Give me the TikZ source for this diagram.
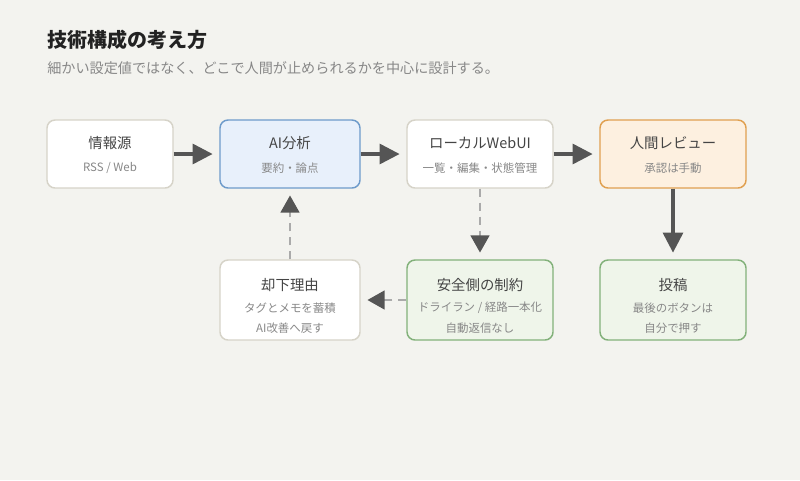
\documentclass[tikz,border=0pt]{standalone}
\usepackage{fontspec}
\setmainfont{Noto Sans CJK JP}
\usetikzlibrary{arrows.meta}
\definecolor{bg}{HTML}{F3F3EF}
\definecolor{nbord}{HTML}{D6D3C8}
\definecolor{bfill}{HTML}{E8F0FB}
\definecolor{bbord}{HTML}{6E9BCB}
\definecolor{ofill}{HTML}{FDF0E0}
\definecolor{obord}{HTML}{E0A050}
\definecolor{gfill}{HTML}{EFF5EA}
\definecolor{gbord}{HTML}{82B17A}
\definecolor{dark}{HTML}{555555}
\definecolor{dgray}{HTML}{AAAAAA}
\definecolor{ttl}{HTML}{222222}
\definecolor{txt}{HTML}{444444}
\definecolor{sub}{HTML}{888888}
\begin{document}
\begin{tikzpicture}[x=0.75pt,y=-0.75pt,
  box/.style={draw=nbord,fill=white,rounded corners=6pt,line width=1.1pt,minimum width=#1*0.75pt,align=center,inner sep=0pt},
  smallbox/.style={box=#1,minimum height=51pt},
  bigbox/.style={box=#1,minimum height=60pt},
  flow/.style={draw=dark,line width=2.4pt,-{Triangle[length=15pt,width=15pt,color=dark]},shorten >=5pt},
  back/.style={draw=dgray,line width=2.2pt,dash pattern=on 6pt off 4.5pt,-{Triangle[length=13pt,width=14pt,color=dark]},shorten >=5pt},
  hd/.style={font=\fontsize{10.8}{12}\selectfont,text=txt},
  sb/.style={font=\fontsize{8.6}{10}\selectfont,text=sub}]
\fill[bg] (0,0) rectangle (800,480);
\useasboundingbox (0,0) rectangle (800,480);
\node[anchor=west,inner sep=0pt,font=\fontsize{15}{17}\bfseries\selectfont,text=ttl] (title) at (47,40) {技術構成の考え方};
\node[anchor=west,inner sep=0pt,font=\fontsize{10.6}{12}\selectfont,text=sub] (subtitle) at (47,68) {細かい設定値ではなく、どこで人間が止められるかを中心に設計する。};

\node[smallbox=126] (src) at (110,154) {};
\node[smallbox=140,fill=bfill,draw=bbord] (ai) at (290,154) {};
\node[smallbox=146] (ui) at (480,154) {};
\node[smallbox=146,fill=ofill,draw=obord] (rev) at (673,154) {};
\node[bigbox=140] (rej) at (290,300) {};
\node[bigbox=146,fill=gfill,draw=gbord] (safe) at (480,300) {};
\node[bigbox=146,fill=gfill,draw=gbord] (post) at (673,300) {};

\node[hd] (t1) at (110,143) {情報源};
\node[sb] (s1) at (110,168) {RSS / Web};
\node[hd] (t2) at (290,143) {AI分析};
\node[sb] (s2) at (290,168) {要約・論点};
\node[hd] (t3) at (480,143) {ローカルWebUI};
\node[sb] (s3) at (480,168) {一覧・編集・状態管理};
\node[hd] (t4) at (673,143) {人間レビュー};
\node[sb] (s4) at (673,168) {承認は手動};
\node[hd] (t5) at (290,285) {却下理由};
\node[sb] (s5a) at (290,308) {タグとメモを蓄積};
\node[sb] (s5b) at (290,328) {AI改善へ戻す};
\node[hd] (t6) at (480,285) {安全側の制約};
\node[sb] (s6a) at (480,308) {ドライラン / 経路一本化};
\node[sb] (s6b) at (480,328) {自動返信なし};
\node[hd] (t7) at (673,285) {投稿};
\node[sb] (s7a) at (673,308) {最後のボタンは};
\node[sb] (s7b) at (673,328) {自分で押す};

\draw[flow] (src) -- (ai);
\draw[flow] (ai) -- (ui);
\draw[flow] (ui) -- (rev);
\draw[flow] (rev) -- (post);
\draw[back] (ui) -- (safe);
\draw[back] (safe) -- (rej);
\draw[back] (rej) -- (ai);
\end{tikzpicture}
\end{document}
